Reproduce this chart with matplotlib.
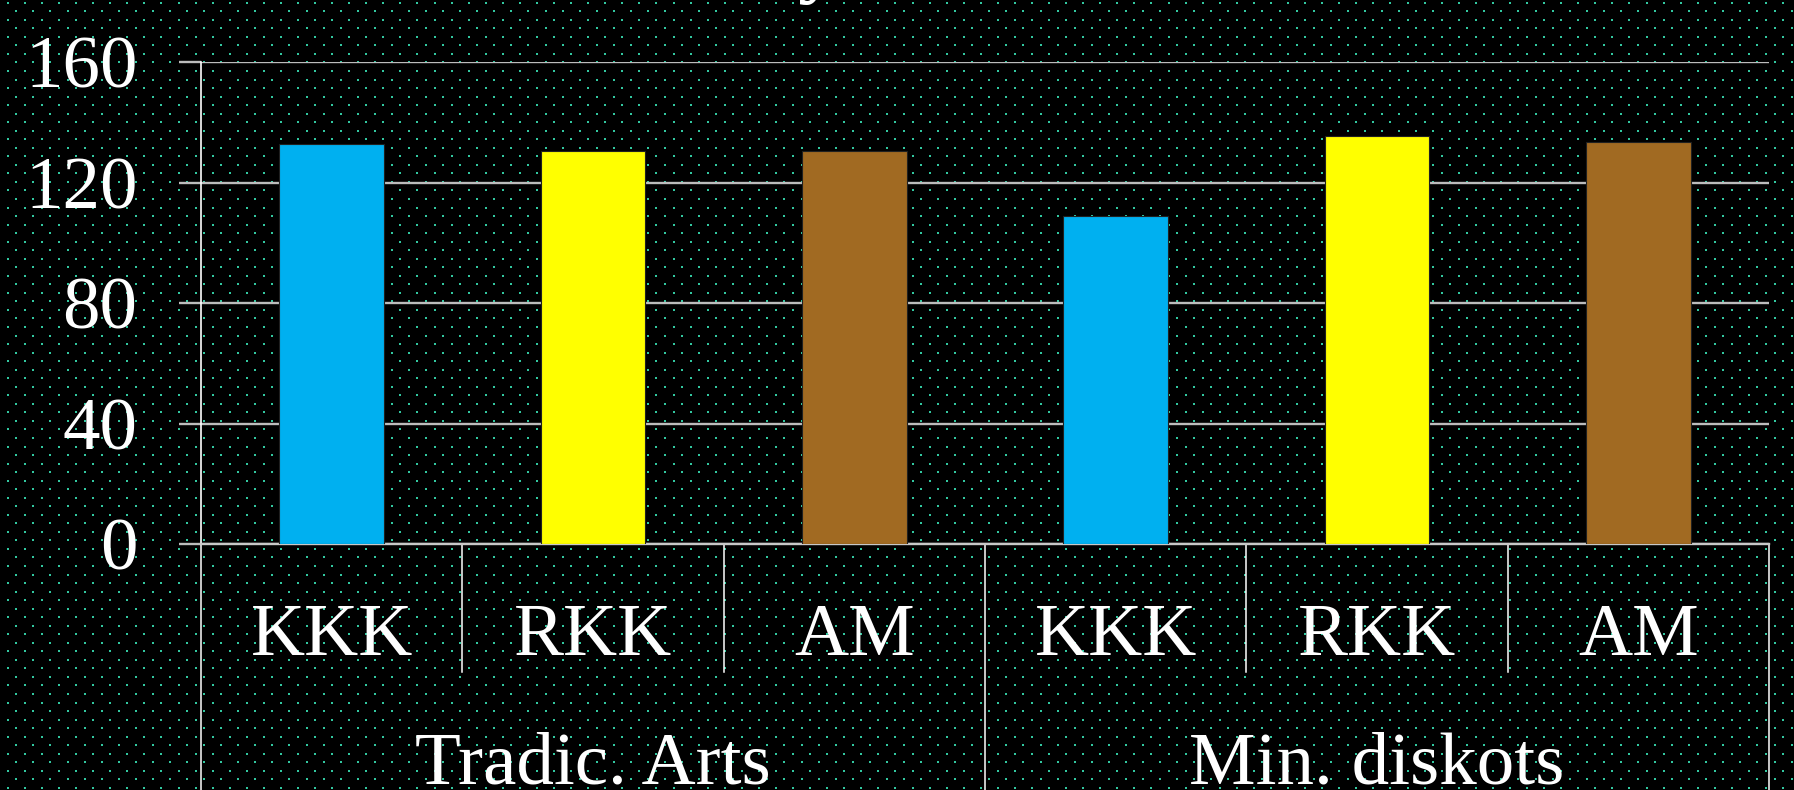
import numpy as np
import matplotlib
matplotlib.use("Agg")
import matplotlib.pyplot as plt

# chart data
groups = ["Tradic. Arts", "Min. diskots"]
categories = ["KKK", "RKK", "AM", "KKK", "RKK", "AM"]
values = [132.8, 130.6, 130.6, 108.9, 135.5, 133.4]
bar_colors = ["#00B0F0", "#FFFF00", "#A16A22", "#00B0F0", "#FFFF00", "#A16A22"]
yticks = [0, 40, 80, 120, 160]

W, H, DPI = 1794, 790, 100
fig = plt.figure(figsize=(W / DPI, H / DPI), dpi=DPI, facecolor="black")

# dotted slide background
bg = np.zeros((H, W, 3))
dot = np.array([50, 200, 160]) / 255
step = 17.07
for r in range(int(H / (step / 2)) + 2):
    y = int(round(1.7 + r * step / 2))
    x0 = 6.8 + (r % 2) * step / 2
    for k in range(int(W / step) + 2):
        x = int(round(x0 + k * step))
        bg[y:y + 2, x:x + 2] = dot
fig.figimage(bg, xo=0, yo=0, origin="upper", zorder=-10)

ax = fig.add_axes([201 / W, 246 / H, 1568 / W, 482 / H])
ax.set_facecolor("none")

x = np.arange(len(categories))
ax.bar(x, values, width=0.4, color=bar_colors, edgecolor="#202020", linewidth=0.8, zorder=3)

ax.set_xlim(-0.5, len(categories) - 0.5)
ax.set_ylim(0, 160)
ax.set_yticks(yticks)
ax.set_yticklabels([str(t) for t in yticks])
ax.grid(axis="y", color="#bcbcbc", linewidth=1.7)
ax.set_axisbelow(True)

serif = "Liberation Serif"
ax.tick_params(axis="y", length=15.8, width=1.7, color="#bcbcbc", pad=30,
               labelsize=54, labelcolor="white")
for lab in ax.get_yticklabels():
    lab.set_fontfamily(serif)
ax.set_xticks([])

for s in ["top", "right"]:
    ax.spines[s].set_visible(False)
ax.spines["left"].set_color("white")
ax.spines["left"].set_linewidth(1.2)
ax.spines["bottom"].set_color("#c8c8c8")
ax.spines["bottom"].set_linewidth(1.7)

# category table below the axis
fig_bottom = -246 / 482
inner = -128 / 482
n_per = len(categories) // len(groups)
for i in range(len(categories) + 1):
    xb = i - 0.5
    low = fig_bottom if i % n_per == 0 else inner
    ax.plot([xb, xb], [0, low], transform=ax.get_xaxis_transform(),
            color="white", linewidth=1.1, clip_on=False)

for i, c in enumerate(categories):
    ax.text(i, -0.230, c, transform=ax.get_xaxis_transform(), ha="center",
            va="baseline", color="white", fontsize=54, family=serif)
for g, name in enumerate(groups):
    ax.text(g * n_per + (n_per - 1) / 2, -0.496, name, transform=ax.get_xaxis_transform(),
            ha="center", va="baseline", color="white", fontsize=54, family=serif)

# clipped title remnant at the very top
fig.text(818 / W, 1 + 13 / H, "y", ha="center", va="baseline", color="white",
         fontsize=60, family=serif, fontweight="bold")

fig.savefig("out.png", dpi=DPI, facecolor="black")
